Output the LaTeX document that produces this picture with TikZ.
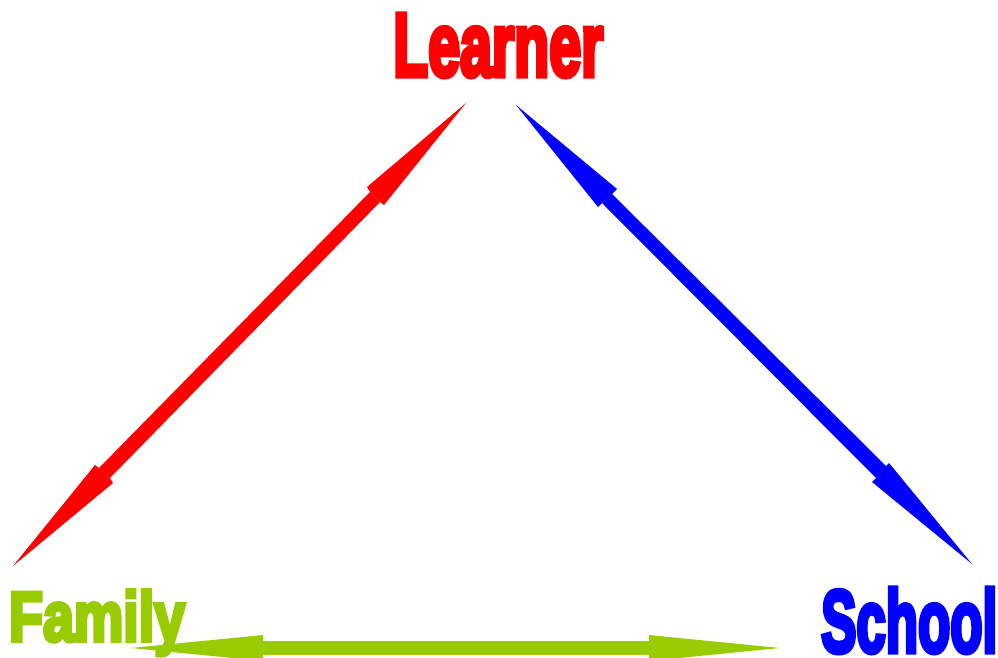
\documentclass[tikz,border=0pt]{standalone}
\usepackage{fontspec}
\newfontfamily\fatfont[FakeBold=6]{Liberation Sans Bold}
\definecolor{lime}{RGB}{153,204,0}
\tikzset{
  lbl/.style={inner sep=0pt,anchor=base west,font=\fatfont\fontsize{60}{60}\selectfont}
}
\begin{document}
\begin{tikzpicture}[x=1pt,y=-1pt]
\useasboundingbox (0,0) rectangle (998,658);
\node[lbl,text=red,xscale=0.955,yscale=1.5] (learner) at (393,76) {Learner};
\node[lbl,text=lime,xscale=0.925,yscale=1.17] (family) at (9,641) {Family};
\node[lbl,text=blue,xscale=0.88,yscale=1.47] (school) at (821,652) {School};
\fill[red] (466,103) -- (384,205) -- (380,202) -- (370,192) -- (367,187) -- cycle;
\fill[red] (13,566) -- (95,465) -- (99,468) -- (110,478) -- (113,483) -- cycle;
\fill[red] (370,192) -- (380,202) -- (110,478) -- (99,468) -- cycle;
\fill[blue] (516,105) -- (617,189) -- (612,194) -- (602,203) -- (598,207) -- cycle;
\fill[blue] (972,564) -- (872,482) -- (876,478) -- (886,466) -- (889,463) -- cycle;
\fill[blue] (612,194) -- (602,203) -- (876,478) -- (886,466) -- cycle;
\fill[lime] (131,648) -- (263,635) -- (263,661) -- cycle;
\fill[lime] (780,648) -- (649,635) -- (649,661) -- cycle;
\fill[lime] (260,641) rectangle (652,655);
\end{tikzpicture}
\end{document}
